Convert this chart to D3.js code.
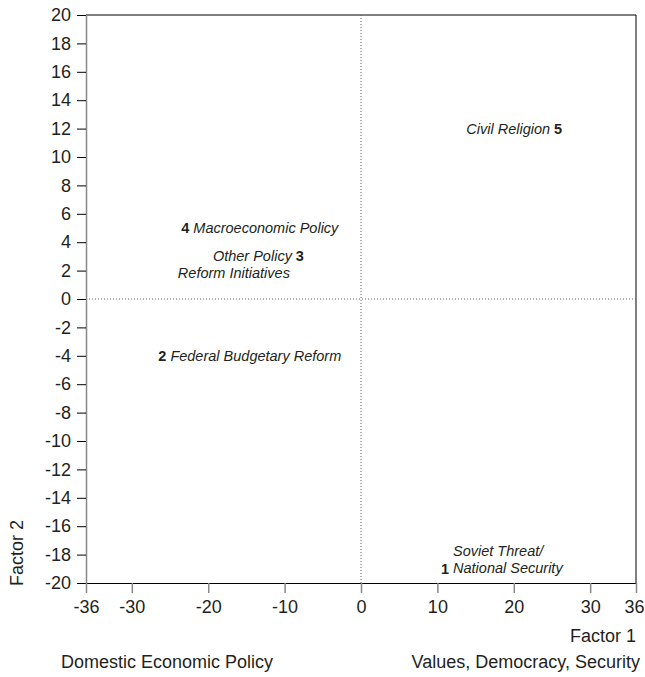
<!DOCTYPE html>
<html>
<head>
<meta charset="utf-8">
<script src="https://cdn.jsdelivr.net/npm/d3@7"></script>
<style>
  body { margin: 0; background: #fff; }
  text { font-family: "Liberation Sans", Arial, sans-serif; fill: #231f20; }
</style>
</head>
<body>
<div id="chart"></div>
<script>
// factor scores of the five dimensions
let ids = [1, 2, 3, 4, 5];
let factor1 = [11, -26, -8, -23, 25.8];
let factor2 = [-19, -4, 3, 5, 12];
let names = [["Soviet Threat/", "National Security"],
             ["Federal Budgetary Reform"],
             ["Other Policy", "Reform Initiatives"],
             ["Macroeconomic Policy"],
             ["Civil Religion"]];
// where the name goes relative to the number
let sides = ["right2", "right", "left2", "right", "left"];

let xTicks = [-36, -30, -20, -10, 0, 10, 20, 30, 36];
let yTicks = d3.range(-20, 21, 2);

let W = 645, H = 677;
let margin = {top: 15, left: 86, right: 9, bottom: 94};

let svg = d3.select("#chart").append("svg").attr("width", W).attr("height", H);

let x = d3.scaleLinear().domain([-36, 36]).range([margin.left, W - margin.right]);
let y = d3.scaleLinear().domain([-20, 20]).range([H - margin.bottom, margin.top]);

// top and right frame
svg.append("line").attr("x1", x(-36)).attr("x2", x(36)).attr("y1", y(20)).attr("y2", y(20))
  .attr("stroke", "#000").attr("stroke-width", 1);
svg.append("line").attr("x1", x(36)).attr("x2", x(36)).attr("y1", y(20)).attr("y2", y(-20))
  .attr("stroke", "#000").attr("stroke-width", 1);

// dotted zero lines
svg.append("line").attr("x1", x(0)).attr("x2", x(0)).attr("y1", y(20)).attr("y2", y(-20))
  .attr("stroke", "#666").attr("stroke-width", 1).attr("stroke-dasharray", "1,2");
svg.append("line").attr("x1", x(-36)).attr("x2", x(36)).attr("y1", y(0)).attr("y2", y(0))
  .attr("stroke", "#666").attr("stroke-width", 1).attr("stroke-dasharray", "1,2");

let yAxis = svg.append("g")
  .attr("transform", `translate(${x(-36)},0)`)
  .call(d3.axisLeft(y).tickValues(yTicks).tickFormat(d => String(d))
    .tickSize(9).tickPadding(6).tickSizeOuter(0));
yAxis.select(".domain").attr("stroke", "#888").attr("stroke-width", 1.5);
yAxis.selectAll(".tick line").attr("stroke", "#000");
yAxis.selectAll("text").attr("font-size", 18).style("font-family", "Liberation Sans, Arial, sans-serif").attr("fill", "#231f20");

let xAxis = svg.append("g")
  .attr("transform", `translate(0,${y(-20)})`)
  .call(d3.axisBottom(x).tickValues(xTicks).tickFormat(d => String(d))
    .tickSize(10).tickPadding(7).tickSizeOuter(0));
xAxis.select(".domain").attr("stroke", "#000").attr("stroke-width", 1);
xAxis.selectAll(".tick line").attr("stroke", "#888").attr("stroke-width", 1.5);
xAxis.selectAll("text").attr("font-size", 18).style("font-family", "Liberation Sans, Arial, sans-serif").attr("fill", "#231f20");
// last label sits against the page edge
xAxis.selectAll(".tick text").filter(d => d == 36).attr("text-anchor", "end").attr("dx", "0.45em");

// axis titles
svg.append("text").attr("x", 636).attr("y", 642).attr("text-anchor", "end")
  .attr("font-size", 18).text("Factor 1");
svg.append("text").attr("x", 640).attr("y", 668).attr("text-anchor", "end")
  .attr("font-size", 18).text("Values, Democracy, Security");
svg.append("text").attr("x", 61).attr("y", 668).attr("text-anchor", "start")
  .attr("font-size", 18).text("Domestic Economic Policy");
svg.append("text").attr("transform", "translate(23,553) rotate(-90)").attr("text-anchor", "middle")
  .attr("font-size", 18).text("Factor 2");

// points drawn as their numbers
let pts = ids.map((d, i) => ({id: d, fx: factor1[i], fy: factor2[i], name: names[i], side: sides[i]}));

let g = svg.selectAll("g.pt").data(pts).enter().append("g").attr("class", "pt")
  .attr("transform", d => `translate(${x(d.fx)},${y(d.fy)})`);

g.append("text").attr("text-anchor", "middle").attr("dy", "0.35em")
  .attr("font-size", 14.5).attr("font-weight", "bold").text(d => d.id);

g.each(function(d) {
  let el = d3.select(this);
  let right = d.side.startsWith("right");
  let t = el.append("text").attr("font-size", 14.5).attr("font-style", "italic")
    .attr("text-anchor", right ? "start" : "end")
    .attr("x", right ? 8 : -8);
  if (d.name.length == 1) {
    t.attr("dy", "0.35em").text(d.name[0]);
  } else if (d.side == "right2") {
    // first line above the number
    t.append("tspan").attr("x", 8).attr("dy", "-0.85em").text(d.name[0]);
    t.append("tspan").attr("x", 8).attr("dy", "1.15em").text(d.name[1]);
  } else {
    t.append("tspan").attr("x", -8).attr("dy", "0.35em").text(d.name[0]);
    t.append("tspan").attr("x", -10).attr("dy", "1.15em").text(d.name[1]);
  }
});
</script>
</body>
</html>
